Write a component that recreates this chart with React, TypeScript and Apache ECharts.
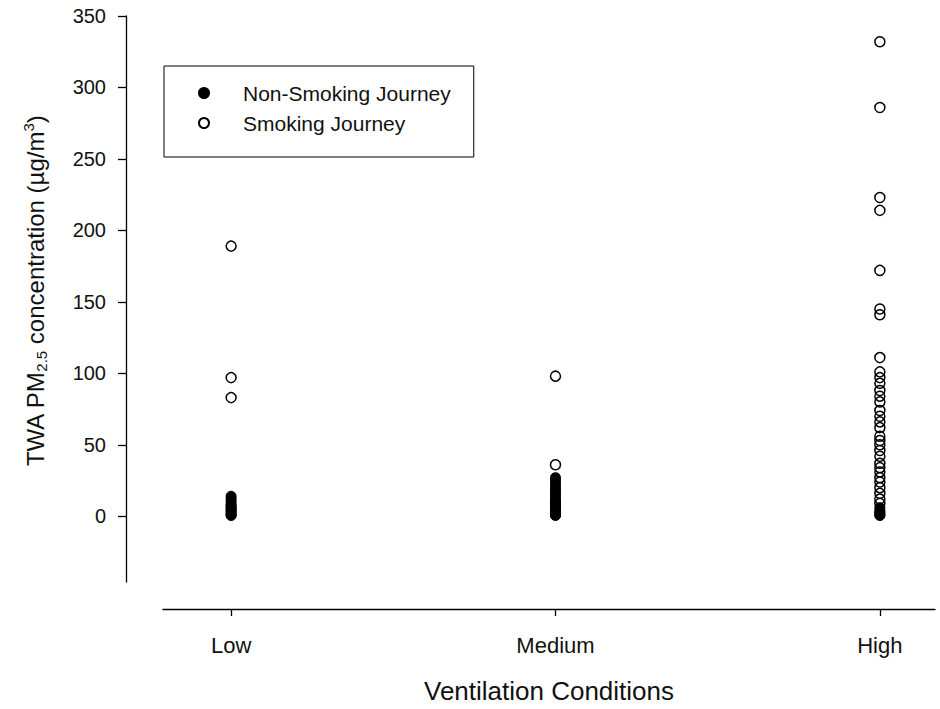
import React, { useEffect, useRef } from "react";
import * as echarts from "echarts";

const categories = ["Low", "Medium", "High"];
const yTicks = [0, 50, 100, 150, 200, 250, 300, 350];

// Non-smoking journeys (filled)
const lowNonSmoking = [14, 12, 10, 8, 7, 6, 5, 4, 3, 2, 1, 0.5];
const mediumNonSmoking = [27, 25, 23, 21, 19, 17, 15, 13, 11, 10, 9, 8, 7, 6, 5, 4, 3, 2, 1, 0.5];
const highNonSmoking = [6, 4, 3, 2, 1, 0.5];

// Smoking journeys (open)
const lowSmoking = [189, 97, 83];
const mediumSmoking = [98, 36];
const highSmoking = [
  332, 286, 223, 214, 172, 145, 141, 111, 101, 97, 93, 88, 84, 80, 74, 70, 66, 62, 56, 53, 50,
  46, 42, 37, 34, 31, 27, 24, 20, 16, 12, 9,
];

const toPoints = (groups: number[][]) =>
  groups.flatMap((vals, i) => vals.map((v) => [i + 1, v]));

const FONT = "Liberation Sans, Arial, sans-serif";

export default function App() {
  const ref = useRef<HTMLDivElement>(null);
  useEffect(() => {
    if (!ref.current) return;
    const chart = echarts.init(ref.current, undefined, { renderer: "svg" });
    chart.setOption({
      animation: false,
      backgroundColor: "#ffffff",
      grid: { left: 163, width: 772, top: 16, height: 567, containLabel: false },
      legend: {
        orient: "vertical",
        left: 164,
        top: 66,
        data: ["Non-Smoking Journey", "Smoking Journey"],
        borderColor: "#000",
        borderWidth: 1,
        borderRadius: 0,
        padding: [15, 23, 22, 34],
        itemWidth: 10,
        itemHeight: 10,
        itemGap: 6,
        selectedMode: false,
        textStyle: {
          fontFamily: FONT,
          fontSize: 21,
          color: "#111",
          lineHeight: 24,
          padding: [0, 0, 0, 29],
        },
      },
      xAxis: {
        type: "value",
        min: 0.79,
        max: 3.17,
        offset: 27,
        splitLine: { show: false },
        axisLine: { show: true, onZero: false, lineStyle: { color: "#000", width: 1.3 } },
        axisTick: {
          show: true,
          customValues: [1, 2, 3],
          length: 7,
          lineStyle: { color: "#000", width: 1.3 },
        },
        axisLabel: {
          customValues: [1, 2, 3],
          formatter: (v: number) => categories[Math.round(v) - 1] ?? "",
          fontFamily: FONT,
          fontSize: 22,
          color: "#111",
          margin: 25,
        },
        name: "Ventilation Conditions",
        nameLocation: "middle",
        nameGap: 69,
        nameTextStyle: { fontFamily: FONT, fontSize: 26, color: "#111" },
      },
      yAxis: {
        type: "value",
        min: -46,
        max: 350,
        offset: 37,
        splitLine: { show: false },
        axisLine: { show: true, onZero: false, lineStyle: { color: "#000", width: 1.3 } },
        axisTick: {
          show: true,
          customValues: yTicks,
          length: 8,
          lineStyle: { color: "#000", width: 1.3 },
        },
        axisLabel: {
          customValues: yTicks,
          fontFamily: FONT,
          fontSize: 20,
          color: "#111",
          margin: 20,
        },
        name: "TWA PM{sub|2.5} concentration (µg/m{sup|3})",
        nameLocation: "middle",
        nameGap: 77,
        nameTextStyle: {
          fontFamily: FONT,
          fontSize: 24,
          color: "#111",
          lineHeight: 28,
          padding: [0, 0, 0, 16],
          rich: {
            sub: { fontFamily: FONT, fontSize: 15, lineHeight: 10, verticalAlign: "bottom", color: "#111" },
            sup: { fontFamily: FONT, fontSize: 15, lineHeight: 10, verticalAlign: "top", color: "#111" },
          },
        },
      },
      series: [
        {
          name: "Smoking Journey",
          type: "scatter",
          symbol: "circle",
          symbolSize: 10,
          z: 2,
          itemStyle: { color: "rgba(255,255,255,0)", borderColor: "#000", borderWidth: 1.5, opacity: 1 },
          data: toPoints([lowSmoking, mediumSmoking, highSmoking]),
        },
        {
          name: "Non-Smoking Journey",
          type: "scatter",
          symbol: "circle",
          symbolSize: 10,
          z: 3,
          itemStyle: { color: "#000", borderColor: "#000", borderWidth: 1, opacity: 1 },
          data: toPoints([lowNonSmoking, mediumNonSmoking, highNonSmoking]),
        },
      ],
    });
    return () => chart.dispose();
  }, []);
  return (
    <div
      ref={ref}
      style={{ position: "fixed", left: 0, top: 0, width: 940, height: 709, background: "#fff" }}
    />
  );
}
